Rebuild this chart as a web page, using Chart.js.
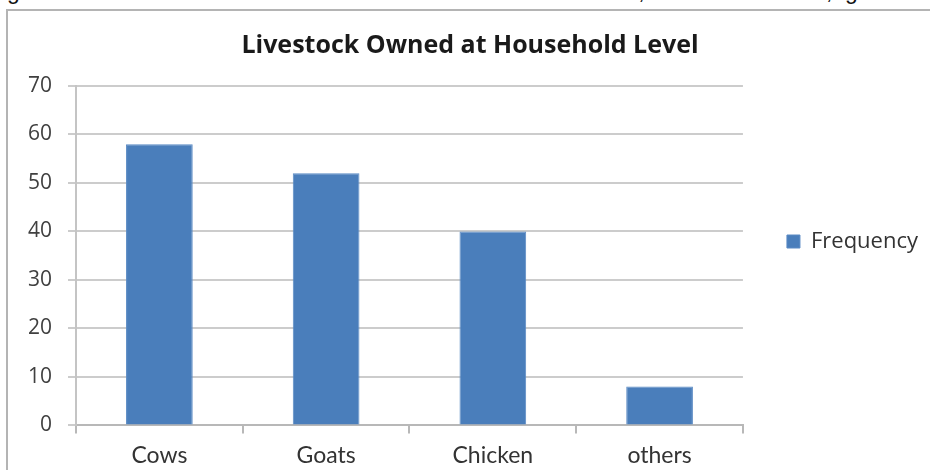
<!DOCTYPE html>
<html>
<head>
<meta charset="utf-8">
<script src="https://cdn.jsdelivr.net/npm/chart.js@4/dist/chart.umd.min.js"></script>
<style>
    html, body { margin: 0; padding: 0; background: #fff; }
    body { width: 930px; height: 470px; position: relative; overflow: hidden; }
    .cut-text {
        position: absolute; left: 2px; top: -22px; white-space: nowrap;
        font-family: "Liberation Sans", Arial, sans-serif; font-size: 23px; color: #111;
        word-spacing: 6px;
    }
    .frame {
        position: absolute; left: 6px; top: 9px; width: 940px; height: 480px;
        border-left: 2px solid #b4b4b4; border-top: 2px solid #b4b4b4;
        box-sizing: border-box;
    }
    #chartBox { position: absolute; left: 0; top: 0; width: 928px; height: 481px; }
</style>
</head>
<body>
<div class="cut-text">igure below shows the livestock owned at household level, most own cows, goats and poultry</div>
<div class="frame"></div>
<div id="chartBox"><canvas id="livestockChart"></canvas></div>
<script>
// Chart data
const categories = ['Cows', 'Goats', 'Chicken', 'others'];
const frequency = [58, 52, 40, 8];
const seriesName = 'Frequency';
const chartTitle = 'Livestock Owned at Household Level';

document.addEventListener('DOMContentLoaded', function() {
    const ctx = document.getElementById('livestockChart').getContext('2d');
    new Chart(ctx, {
        type: 'bar',
        data: {
            labels: categories,
            datasets: [{
                label: seriesName,
                data: frequency,
                backgroundColor: '#4a7ebb',
                borderColor: '#5a8ac4',
                borderWidth: 1,
                categoryPercentage: 1.0,
                barPercentage: 0.4
            }]
        },
        options: {
            responsive: true,
            maintainAspectRatio: false,
            animation: false,
            layout: { padding: { left: 12, right: 0, top: 6, bottom: 4 } },
            plugins: {
                title: {
                    display: true,
                    text: chartTitle,
                    color: '#1a1a1a',
                    font: { family: 'Open Sans', size: 25, weight: 'bold' },
                    padding: { top: 25, bottom: 25 }
                },
                legend: {
                    position: 'right',
                    labels: {
                        boxWidth: 13,
                        boxHeight: 13,
                        padding: 44,
                        color: '#333',
                        font: { family: 'Open Sans', size: 22 }
                    }
                },
                tooltip: { enabled: false }
            },
            scales: {
                x: {
                    grid: {
                        offset: true,
                        drawOnChartArea: false,
                        color: '#b8b8b8',
                        lineWidth: 2,
                        tickLength: 8
                    },
                    border: { color: '#b8b8b8', width: 2 },
                    ticks: {
                        color: '#333',
                        padding: 8,
                        font: { family: 'Lato', size: 23 }
                    }
                },
                y: {
                    min: 0,
                    max: 70,
                    ticks: {
                        stepSize: 10,
                        color: '#404040',
                        padding: 16,
                        font: { family: 'Open Sans', size: 21 }
                    },
                    grid: {
                        color: '#cccccc',
                        lineWidth: 2,
                        tickLength: 8
                    },
                    border: { color: '#c4c4c4', width: 2 }
                }
            }
        }
    });
});
</script>
</body>
</html>
